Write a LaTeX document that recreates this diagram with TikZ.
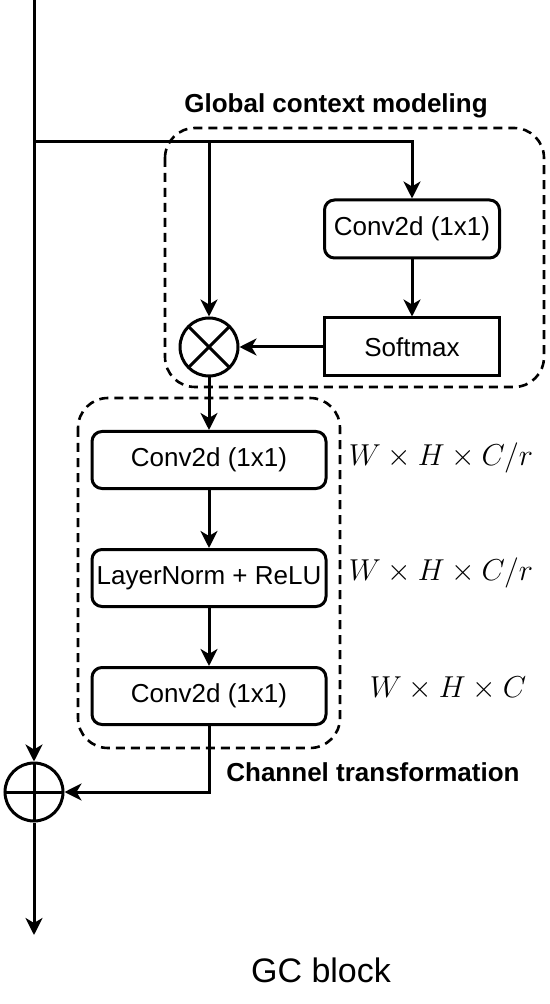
\documentclass[tikz,border=0pt]{standalone}
\usepackage[no-math]{fontspec}
\setmainfont{Liberation Sans}
\usepackage{tikz}
\usetikzlibrary{arrows.meta,positioning}
\tikzset{
  blk/.style={draw, line width=1.5pt, rounded corners=5pt, minimum width=87.5pt,
              minimum height=29pt, inner sep=1pt, font=\fontsize{13}{15}\selectfont},
  blkw/.style={blk, minimum width=117pt, minimum height=28.5pt},
  nsoft/.style={blk, sharp corners},
  opnode/.style={draw, circle, line width=1.5pt, minimum size=29pt, inner sep=0pt},
  omul/.style={opnode, path picture={\draw[line width=1.5pt]
      (path picture bounding box.north west) -- (path picture bounding box.south east)
      (path picture bounding box.north east) -- (path picture bounding box.south west);}},
  oadd/.style={opnode, path picture={\draw[line width=1.5pt]
      (path picture bounding box.north) -- (path picture bounding box.south)
      (path picture bounding box.west) -- (path picture bounding box.east);}},
  flow/.style={-{Stealth[length=8.5pt, width=8.5pt, inset=2.5pt]}, line width=1.5pt},
  grp/.style={draw, dash pattern=on 4.5pt off 3pt, line width=1.3pt, rounded corners=15pt},
  grplbl/.style={font=\bfseries\fontsize{13}{15}\selectfont},
  dimlbl/.style={font=\fontsize{14.4}{17}\selectfont, scale=1.05},
}
\begin{document}
\begin{tikzpicture}[x=0.5pt, y=-0.5pt]
  \useasboundingbox (0,0) rectangle (550,1004);
  % global context modeling
  \node[blk] (conva) at (412,229) {Conv2d (1x1)};
  \node[nsoft, below=28.5pt of conva] (soft) {Softmax};
  \node[omul] (mul) at (209,0 |- soft) {};
  % channel transformation
  \node[blkw] (convb) at (209,460) {Conv2d (1x1)};
  \node[blkw, below=29pt of convb] (norm) {LayerNorm + ReLU};
  \node[blkw, below=29pt of norm] (convc) {Conv2d (1x1)};
  \node[oadd] (add) at (34,792) {};
  % groups
  \draw[grp] (165,128) rectangle (544,387);
  \draw[grp] (78,398) rectangle (340,748);
  \node[grplbl] (gtitle) at (336,106) {Global context modeling};
  \node[grplbl] (ctitle) at (373,772) {Channel transformation};
  % shapes
  \node[dimlbl] (dima) at (441,458) {$W\times H\times C/r$};
  \node[dimlbl] (dimb) at (441,573) {$W\times H\times C/r$};
  \node[dimlbl] (dimc) at (448,688) {$W\times H\times C$};
  \node[font=\fontsize{17}{20}\selectfont] (cap) at (321,970) {GC block};
  % connectors
  \coordinate (top) at (34,0);
  \coordinate (split) at (34,142);
  \coordinate (out) at (34,935);
  \draw[flow] (top) -- (add);
  \draw[flow] (add) -- (out);
  \draw[flow] (split) -| (conva);
  \draw[flow] (mul |- split) -- (mul);
  \draw[flow] (conva) -- (soft);
  \draw[flow] (soft) -- (mul);
  \draw[flow] (mul) -- (convb);
  \draw[flow] (convb) -- (norm);
  \draw[flow] (norm) -- (convc);
  \draw[flow] (convc) |- (add);
\end{tikzpicture}
\end{document}
